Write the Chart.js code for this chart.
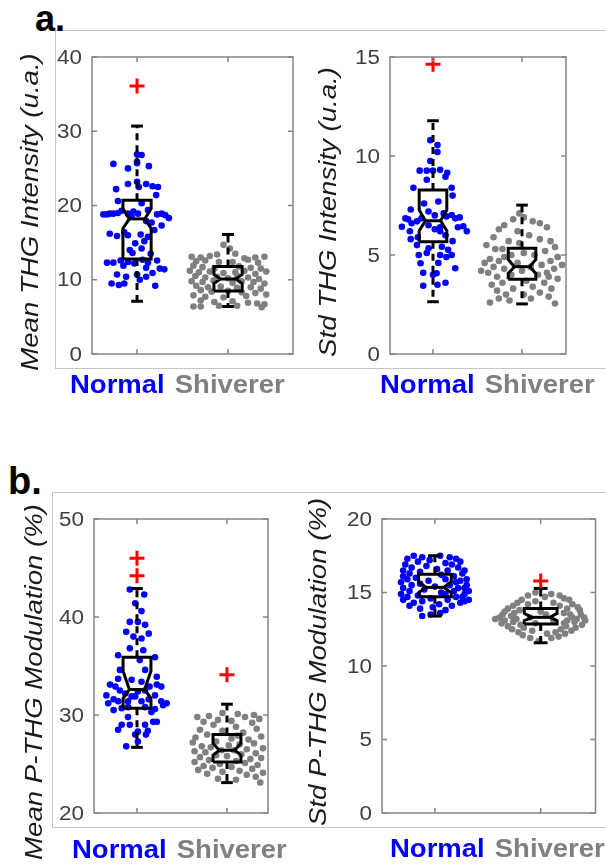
<!DOCTYPE html>
<html lang="en">
<head>
<meta charset="UTF-8">
<title>THG box plots</title>
<style>
    body {
        margin: 0;
        width: 606px;
        height: 865px;
        overflow: hidden;
        background: #ffffff;
        position: relative;
        font-family: 'Liberation Sans', Arial, sans-serif;
    }
    canvas {
        position: absolute;
        left: 0;
        top: 0;
    }
    .frame {
        position: absolute;
        border: 1px solid #c6c6c6;
        width: 600px;
    }
    .letter {
        position: absolute;
        font-weight: bold;
        color: #000;
        line-height: 1;
    }
</style>
<script src="https://cdn.jsdelivr.net/npm/chart.js"></script>
</head>
<body>
<div class="frame" style="left:55px; top:30px; height:337px;"></div>
<div class="frame" style="left:52px; top:492px; height:334px;"></div>
<div class="letter" style="left:35px; top:1px; font-size:36px;">a.</div>
<div class="letter" style="left:8px; top:462px; font-size:38px;">b.</div>

<canvas id="c1" width="606" height="865"></canvas>
<canvas id="c2" width="606" height="865"></canvas>
<canvas id="c3" width="606" height="865"></canvas>
<canvas id="c4" width="606" height="865"></canvas>

<script>
    // ---- data ----
    const categories = ['Normal', 'Shiverer'];

    // tick labels per panel
    const ticksMeanTHG = [0, 10, 20, 30, 40];
    const ticksStdTHG = [0, 5, 10, 15];
    const ticksMeanPTHG = [20, 30, 40, 50];
    const ticksStdPTHG = [0, 5, 10, 15, 20];

    // box stats: [lowWhisker, q1, notchLow, median, notchHigh, q3, highWhisker]
    const statsMeanTHG = [[7.1, 12.8, 16.9, 18.2, 19.6, 20.7, 30.7], [6.4, 8.5, 9.5, 10.1, 10.7, 11.8, 16.1]];
    const statsStdTHG = [[2.64, 5.67, 6.23, 6.73, 7.27, 8.28, 11.78], [2.53, 3.77, 4.07, 4.41, 4.78, 5.34, 7.52]];
    const statsMeanPTHG = [[26.7, 30.7, 31.7, 32.6, 34.5, 35.9, 42.9], [23.1, 25.2, 25.9, 26.4, 27.1, 28.0, 31.1]];
    const statsStdPTHG = [[13.4, 14.71, 14.98, 15.35, 15.73, 16.25, 17.5], [11.58, 12.85, 13.08, 13.31, 13.58, 13.92, 15.28]];

    // outliers: [category index (1|2), value]
    const outMeanTHG = [[1, 36.1]];
    const outStdTHG = [[1, 14.63]];
    const outMeanPTHG = [[1, 46.0], [1, 44.2], [2, 34.1]];
    const outStdPTHG = [[2, 15.78]];

    // individual samples: [x jitter, value]
    const normalMeanTHG = [
        [0.00, 26.9], [0.05, 26.8], [0.00, 25.9], [-0.26, 25.6], [-0.10, 25.0], [0.13, 25.3], [0.00, 25.7],
        [0.00, 23.2], [-0.10, 22.9], [0.02, 22.5], [0.10, 22.9], [0.17, 22.6], [0.23, 22.5], [-0.23, 22.2], [0.21, 21.4], [-0.21, 20.6], [0.05, 20.3],
        [-0.37, 18.8], [-0.33, 18.8], [-0.30, 18.9], [-0.26, 18.9], [-0.21, 19.0], [-0.17, 19.3], [-0.10, 18.9], [-0.04, 19.2], [0.01, 18.9], [0.22, 18.8], [0.27, 18.9], [0.31, 18.7], [0.35, 18.3], [0.12, 19.4], [-0.06, 18.5], [0.10, 17.9],
        [0.16, 17.7], [0.27, 17.3], [0.19, 16.7], [-0.30, 16.2], [-0.22, 15.9], [-0.10, 16.0], [0.04, 16.1], [0.12, 15.8], [-0.14, 16.4], [0.08, 15.2],
        [-0.08, 14.0], [-0.05, 13.6], [0.05, 14.2], [0.15, 13.5], [-0.02, 14.9],
        [-0.33, 12.3], [-0.26, 12.3], [-0.18, 12.6], [-0.10, 12.4], [-0.03, 12.2], [0.06, 12.7], [0.12, 12.3], [0.22, 12.6], [0.10, 11.6], [0.30, 11.4], [0.25, 11.5], [-0.15, 11.9],
        [-0.22, 10.7], [-0.12, 10.4], [0.00, 10.7], [0.03, 10.0], [0.10, 10.4], [-0.28, 9.5], [-0.20, 9.3], [-0.14, 9.5], [0.20, 9.2], [0.17, 10.9]
    ];
    const shiverMeanTHG = [
        [-0.05, 14.7], [0.02, 14.2], [-0.12, 13.4], [0.08, 13.5], [-0.40, 13.1], [-0.30, 13.0], [-0.20, 13.2], [0.18, 12.9], [0.30, 13.0], [0.40, 13.1], [-0.35, 12.5], [-0.25, 12.6], [-0.10, 12.4], [0.05, 12.4], [0.22, 12.7], [0.33, 12.3],
        [-0.38, 11.9], [-0.28, 11.7], [-0.15, 11.5], [0.12, 11.8], [0.25, 11.6], [0.36, 11.5], [-0.42, 11.2], [-0.32, 11.0], [-0.20, 11.1], [-0.05, 10.9], [0.08, 11.0], [0.18, 11.2], [0.30, 10.8], [0.42, 11.1],
        [-0.36, 10.5], [-0.25, 10.3], [-0.12, 10.4], [0.00, 10.2], [0.10, 10.5], [0.22, 10.3], [0.34, 10.1], [-0.40, 9.8], [-0.28, 9.7], [-0.16, 9.9], [0.05, 9.6], [0.15, 9.8], [0.28, 9.7], [0.40, 9.5],
        [-0.35, 9.2], [-0.22, 9.0], [-0.08, 9.1], [0.10, 8.9], [0.25, 9.0], [0.36, 8.8], [-0.30, 8.6], [-0.18, 8.4], [0.00, 8.5], [0.15, 8.3], [0.30, 8.2], [0.42, 8.0], [-0.38, 7.9], [-0.25, 7.7], [-0.05, 7.6], [0.20, 7.8],
        [-0.30, 7.2], [-0.15, 7.0], [0.05, 7.1], [0.22, 6.9], [0.32, 6.8], [0.40, 6.7], [-0.38, 6.4], [-0.30, 6.4], [-0.10, 6.5], [0.10, 6.5], [0.37, 6.3]
    ];
    const normalStdTHG = [
        [-0.03, 10.8], [0.05, 10.55], [0.05, 10.2], [-0.03, 9.75],
        [-0.15, 9.26], [-0.07, 9.26], [0.00, 9.26], [0.08, 9.3], [0.16, 9.15], [0.14, 8.95], [-0.07, 8.8],
        [-0.22, 8.4], [0.21, 8.4], [0.22, 8.0], [-0.25, 7.3], [-0.10, 7.6], [0.06, 7.7], [0.12, 7.1], [-0.05, 7.2], [0.02, 7.0],
        [-0.35, 6.43], [-0.31, 6.85], [-0.28, 6.8], [-0.24, 6.6], [-0.18, 6.7], [-0.13, 6.85], [-0.05, 6.5], [0.02, 6.3], [0.08, 6.4], [0.15, 6.95], [0.21, 7.02], [0.25, 6.85], [0.30, 6.9], [0.34, 6.45], [0.38, 6.2], [0.28, 6.4], [-0.26, 6.2], [0.08, 6.2], [0.14, 6.0], [-0.17, 5.9],
        [-0.18, 5.5], [-0.05, 5.34], [0.10, 5.42], [0.17, 5.26], [-0.16, 5.0], [-0.07, 5.1], [0.08, 5.0], [0.15, 4.9], [0.21, 5.0], [-0.14, 4.58], [0.06, 4.6], [0.25, 4.33], [-0.11, 4.1], [0.00, 4.0], [0.04, 4.08], [-0.11, 3.45], [0.05, 3.5], [0.14, 3.6], [-0.25, 5.8], [0.22, 5.7]
    ];
    const shiverStdTHG = [
        [-0.03, 7.1], [0.02, 6.9], [-0.10, 6.8], [0.12, 6.7], [0.20, 6.6], [-0.20, 6.5], [0.28, 6.4], [-0.26, 6.3], [-0.05, 6.2], [0.08, 6.0], [-0.32, 5.9], [0.20, 5.8], [0.32, 5.7], [-0.15, 5.7], [-0.40, 5.5], [0.37, 5.4],
        [-0.30, 5.3], [-0.22, 5.3], [0.26, 5.2], [0.02, 5.1], [-0.12, 5.0], [0.14, 5.0], [0.40, 4.9], [-0.36, 4.8], [-0.26, 4.7], [0.32, 4.7], [-0.42, 4.6], [-0.05, 4.6], [0.22, 4.5], [0.45, 4.5], [-0.32, 4.4], [0.10, 4.4],
        [-0.20, 4.3], [0.36, 4.3], [0.00, 4.2], [-0.38, 4.1], [0.28, 4.1], [-0.12, 4.0], [0.18, 4.0], [-0.28, 3.9], [0.40, 3.8], [0.05, 3.7], [-0.22, 3.6], [0.25, 3.6], [-0.34, 3.5], [0.12, 3.4], [-0.10, 3.3], [0.33, 3.3],
        [-0.28, 3.2], [0.20, 3.1], [-0.18, 3.0], [0.02, 3.0], [0.30, 2.9], [-0.26, 2.8], [0.10, 2.8], [-0.14, 2.7], [0.37, 2.55], [-0.36, 2.6], [-0.03, 5.6], [-0.20, 4.9], [-0.46, 4.2], [0.30, 3.9]
    ];
    const normalMeanPTHG = [
        [-0.08, 42.8], [0.08, 42.3], [-0.02, 41.4], [0.05, 40.6],
        [-0.08, 39.5], [0.01, 39.5], [0.09, 39.2],
        [-0.12, 38.5], [-0.04, 38.0], [0.05, 37.8], [0.13, 38.3],
        [-0.08, 36.8], [0.07, 36.6], [-0.21, 36.1], [0.20, 35.9], [0.03, 35.6],
        [-0.19, 34.6], [0.09, 34.6], [-0.21, 33.7], [-0.06, 33.6], [0.05, 33.4], [0.22, 33.9],
        [-0.30, 33.1], [-0.24, 32.9], [-0.19, 32.5], [-0.13, 32.2], [-0.06, 31.9], [0.01, 32.4], [0.09, 32.5], [0.14, 32.9], [0.22, 33.1], [0.27, 32.9],
        [-0.34, 32.0], [-0.26, 31.6], [-0.21, 31.4], [-0.10, 31.4], [-0.02, 31.9], [0.05, 31.4], [0.13, 31.6], [0.20, 32.0], [0.27, 31.4], [0.33, 31.2], [0.29, 31.0],
        [-0.32, 31.2], [-0.26, 30.5], [-0.17, 30.7], [-0.10, 30.8], [0.09, 30.8], [0.20, 30.6], [0.16, 30.3],
        [-0.10, 29.8], [0.18, 29.3], [0.22, 29.3], [-0.17, 29.0], [-0.08, 29.0], [0.09, 29.0], [-0.21, 28.5], [0.01, 28.3], [-0.02, 28.0], [0.10, 28.0], [-0.12, 26.8], [0.01, 27.3], [0.12, 28.4]
    ];
    const shiverMeanPTHG = [
        [-0.05, 30.2], [0.12, 30.1], [0.30, 30.0], [-0.20, 29.9], [-0.33, 29.8], [0.20, 29.8], [0.36, 29.6], [-0.10, 29.5], [0.05, 29.4], [-0.26, 29.3], [0.28, 29.2], [-0.15, 29.0], [0.10, 28.8], [0.33, 28.6], [-0.30, 28.5], [-0.05, 28.4],
        [0.18, 28.2], [-0.22, 28.0], [0.38, 27.8], [-0.35, 27.7], [0.05, 27.6], [0.24, 27.5], [-0.12, 27.3], [-0.38, 27.2], [0.30, 27.1], [0.14, 27.0], [-0.28, 26.8], [-0.18, 26.7], [0.40, 26.6], [0.22, 26.5], [-0.06, 26.4], [0.08, 26.4],
        [-0.36, 26.3], [-0.24, 26.2], [0.32, 26.1], [0.16, 26.0], [-0.12, 25.9], [0.00, 25.8], [-0.30, 25.7], [0.38, 25.6], [0.26, 25.5], [-0.20, 25.4], [0.10, 25.3], [-0.36, 25.2], [0.20, 25.1], [-0.08, 25.0], [0.34, 24.9], [-0.26, 24.8],
        [0.05, 24.7], [-0.16, 24.6], [0.28, 24.5], [-0.32, 24.4], [0.14, 24.3], [-0.05, 24.2], [0.40, 24.1], [-0.22, 24.0], [0.22, 23.9], [0.32, 23.7], [-0.10, 23.5], [0.10, 23.4], [0.37, 23.1], [0.02, 26.9], [0.12, 27.9]
    ];
    const normalStdPTHG = [
        [-0.20, 17.5], [-0.12, 17.4], [0.05, 17.5], [0.14, 17.4], [-0.26, 17.3], [-0.05, 17.2], [0.20, 17.3], [-0.16, 17.1], [0.10, 17.0], [0.24, 17.1],
        [-0.28, 16.9], [-0.08, 16.8], [0.16, 16.9], [-0.22, 16.7], [0.02, 16.6], [0.22, 16.7], [0.28, 16.5], [-0.30, 16.5], [-0.14, 16.4], [0.12, 16.5],
        [-0.24, 16.3], [0.06, 16.2], [0.26, 16.3], [-0.30, 16.1], [-0.18, 16.0], [0.18, 16.1], [0.30, 15.9], [-0.26, 15.9], [-0.06, 15.8], [0.10, 15.9], [0.24, 15.8],
        [-0.32, 15.7], [-0.14, 15.6], [0.20, 15.7], [0.30, 15.5], [-0.22, 15.5], [0.00, 15.4], [0.14, 15.5], [0.28, 15.3], [-0.30, 15.3], [-0.10, 15.2], [0.22, 15.3], [0.32, 15.1],
        [-0.24, 15.1], [0.06, 15.0], [0.18, 15.1], [0.28, 14.9], [-0.32, 14.9], [-0.16, 14.8], [0.10, 14.9], [0.26, 14.7], [-0.26, 14.7], [-0.04, 14.6], [0.20, 14.7], [0.32, 14.5],
        [-0.30, 14.5], [-0.12, 14.4], [0.12, 14.5], [0.24, 14.3], [-0.20, 14.3], [0.04, 14.2], [0.28, 14.4], [-0.24, 14.1], [-0.02, 14.0], [0.16, 14.1], [-0.14, 13.9], [0.10, 13.8],
        [-0.04, 13.5], [0.05, 13.6], [-0.12, 13.4]
    ];
    const shiverStdPTHG = [
        [-0.05, 15.0], [0.10, 14.9], [-0.12, 14.8], [0.04, 14.7], [0.18, 14.8], [-0.18, 14.5], [0.22, 14.6], [-0.22, 14.3], [-0.05, 14.4], [0.12, 14.3], [0.27, 14.5],
        [-0.26, 14.1], [-0.12, 14.2], [0.18, 14.1], [0.30, 14.2], [-0.31, 13.9], [0.25, 13.9], [0.35, 14.0], [-0.34, 13.7], [-0.20, 13.8], [0.22, 13.6], [0.37, 13.8],
        [-0.36, 13.5], [-0.25, 13.6], [0.28, 13.5], [0.38, 13.5], [-0.39, 13.3], [-0.28, 13.4], [0.30, 13.3], [0.41, 13.3],
        [-0.43, 13.2], [-0.34, 13.1], [-0.23, 13.2], [0.25, 13.1], [0.34, 13.2], [0.42, 13.1], [-0.37, 12.9], [-0.26, 13.0], [0.22, 12.9], [0.32, 13.0], [0.39, 12.8],
        [-0.31, 12.7], [-0.19, 12.8], [0.24, 12.7], [0.33, 12.6], [-0.27, 12.5], [-0.16, 12.6], [0.19, 12.5], [0.29, 12.4], [-0.21, 12.3], [-0.08, 12.4], [0.14, 12.3], [0.23, 12.2],
        [-0.17, 12.1], [0.06, 12.2], [0.17, 12.0], [-0.10, 11.9], [0.10, 11.9], [-0.02, 11.7],
        [-0.10, 13.3], [0.05, 13.5], [0.12, 13.1], [-0.05, 12.9], [0.00, 13.7]
    ];

    // ---- layout / style ----
    const W = 606, H = 865;
    const BLUE = '#0000ff';
    const GRAY = '#808080';
    const BOX_HALF = 0.155;
    const NOTCH_HALF = 0.085;
    const CAP_HALF = 0.065;
    const FONT = "'Liberation Sans', Arial, sans-serif";

    const panels = [
        {
            canvas: 'c1', area: { left: 92, top: 57, right: 293, bottom: 354 },
            xRange: [0.505, 2.714], yRange: [0, 40], ticks: ticksMeanTHG,
            title: 'Mean THG Intensity (u.a.)', titleAt: [32, 212],
            labelAt: [70, 393],
            samples: [normalMeanTHG, shiverMeanTHG], stats: statsMeanTHG, outliers: outMeanTHG
        },
        {
            canvas: 'c2', area: { left: 390, top: 57, right: 566, bottom: 354 },
            xRange: [0.517, 2.494], yRange: [0, 15], ticks: ticksStdTHG,
            title: 'Std THG Intensity (u.a.)', titleAt: [330, 212],
            labelAt: [380, 393],
            samples: [normalStdTHG, shiverStdTHG], stats: statsStdTHG, outliers: outStdTHG
        },
        {
            canvas: 'c3', area: { left: 94, top: 519, right: 268, bottom: 813 },
            xRange: [0.522, 2.456], yRange: [20, 50], ticks: ticksMeanPTHG,
            title: 'Mean P-THG Modulation (%)', titleAt: [36, 682],
            labelAt: [72, 858],
            samples: [normalMeanPTHG, shiverMeanPTHG], stats: statsMeanPTHG, outliers: outMeanPTHG
        },
        {
            canvas: 'c4', area: { left: 382, top: 519, right: 604, bottom: 813 },
            xRange: [0.5, 2.518], yRange: [0, 20], ticks: ticksStdPTHG,
            title: 'Std P-THG Modulation (%)', titleAt: [320, 662],
            labelAt: [390, 857],
            samples: [normalStdPTHG, shiverStdPTHG], stats: statsStdPTHG, outliers: outStdPTHG
        }
    ];

    function lineSet(data, dash) {
        return {
            type: 'scatter', data: data, showLine: true, pointRadius: 0,
            borderColor: '#000', borderWidth: 3, borderDash: dash || [],
            fill: false, tension: 0, clip: false
        };
    }

    function boxDatasets(c, s) {
        const [lo, q1, nlo, med, nhi, q3, hi] = s;
        const w = BOX_HALF, n = NOTCH_HALF, k = CAP_HALF;
        const outline = [
            { x: c - w, y: q1 }, { x: c + w, y: q1 }, { x: c + w, y: nlo }, { x: c + n, y: med },
            { x: c + w, y: nhi }, { x: c + w, y: q3 }, { x: c - w, y: q3 }, { x: c - w, y: nhi },
            { x: c - n, y: med }, { x: c - w, y: nlo }, { x: c - w, y: q1 }
        ];
        return [
            lineSet(outline),
            lineSet([{ x: c - n, y: med }, { x: c + n, y: med }]),
            lineSet([{ x: c, y: q3 }, { x: c, y: hi }], [7, 5]),
            lineSet([{ x: c, y: q1 }, { x: c, y: lo }], [7, 5]),
            lineSet([{ x: c - k, y: hi }, { x: c + k, y: hi }]),
            lineSet([{ x: c - k, y: lo }, { x: c + k, y: lo }])
        ];
    }

    function stretchText(ctx, text, x, y, sx) {
        ctx.save();
        ctx.translate(x, y);
        ctx.scale(sx, 1);
        ctx.fillText(text, 0, 0);
        ctx.restore();
    }

    function axesPlugin(panel) {
        return {
            id: 'matlabAxes',
            afterDatasetsDraw(chart) {
                const ctx = chart.ctx;
                const a = chart.chartArea;
                const xs = chart.scales.x, ys = chart.scales.y;
                ctx.save();
                // box frame
                ctx.strokeStyle = '#858585';
                ctx.lineWidth = 1.5;
                ctx.strokeRect(a.left, a.top, a.right - a.left, a.bottom - a.top);
                // inward ticks
                ctx.beginPath();
                panel.ticks.forEach(t => {
                    const y = ys.getPixelForValue(t);
                    ctx.moveTo(a.left, y); ctx.lineTo(a.left + 5, y);
                    ctx.moveTo(a.right, y); ctx.lineTo(a.right - 5, y);
                });
                categories.forEach((c, i) => {
                    const x = xs.getPixelForValue(i + 1);
                    ctx.moveTo(x, a.bottom); ctx.lineTo(x, a.bottom - 5);
                    ctx.moveTo(x, a.top); ctx.lineTo(x, a.top + 5);
                });
                ctx.stroke();
                // tick labels
                ctx.fillStyle = '#404040';
                ctx.font = '20px ' + FONT;
                ctx.textAlign = 'right';
                ctx.textBaseline = 'middle';
                panel.ticks.forEach(t => {
                    stretchText(ctx, String(t), a.left - 10, ys.getPixelForValue(t) + 1, 1.12);
                });
                // y title
                ctx.save();
                ctx.translate(panel.titleAt[0], panel.titleAt[1]);
                ctx.rotate(-Math.PI / 2);
                ctx.scale(1.2, 1);
                ctx.fillStyle = '#1a1a1a';
                ctx.font = 'italic 23px ' + FONT;
                ctx.textAlign = 'center';
                ctx.textBaseline = 'middle';
                ctx.fillText(panel.title, 0, 0);
                ctx.restore();
                // category labels
                ctx.font = 'bold 25px ' + FONT;
                ctx.textAlign = 'left';
                ctx.textBaseline = 'alphabetic';
                const sx = 1.1;
                ctx.fillStyle = BLUE;
                stretchText(ctx, categories[0], panel.labelAt[0], panel.labelAt[1], sx);
                const w0 = ctx.measureText(categories[0]).width * sx;
                ctx.fillStyle = GRAY;
                stretchText(ctx, categories[1], panel.labelAt[0] + w0 + 10, panel.labelAt[1], sx);
                ctx.restore();
            }
        };
    }

    panels.forEach(panel => {
        const datasets = [];
        // outliers on top
        datasets.push({
            type: 'scatter',
            data: panel.outliers.map(o => ({ x: o[0], y: o[1] })),
            pointStyle: 'cross', pointRadius: 7.5, borderColor: '#ff0000', borderWidth: 3,
            backgroundColor: '#ff0000', clip: false
        });
        panel.stats.forEach((s, i) => {
            boxDatasets(i + 1, s).forEach(d => datasets.push(d));
        });
        const colors = [BLUE, GRAY];
        panel.samples.forEach((pts, i) => {
            datasets.push({
                type: 'scatter',
                label: categories[i],
                data: pts.map(p => ({ x: i + 1 + p[0], y: p[1] })),
                pointRadius: 3.3, pointBorderWidth: 0,
                backgroundColor: colors[i], borderColor: colors[i]
            });
        });

        new Chart(document.getElementById(panel.canvas), {
            type: 'scatter',
            data: { datasets: datasets },
            options: {
                responsive: false,
                animation: false,
                events: [],
                layout: {
                    padding: {
                        left: panel.area.left, top: panel.area.top,
                        right: W - panel.area.right, bottom: H - panel.area.bottom
                    }
                },
                scales: {
                    x: { type: 'linear', min: panel.xRange[0], max: panel.xRange[1], display: false },
                    y: { type: 'linear', min: panel.yRange[0], max: panel.yRange[1], display: false }
                },
                plugins: {
                    legend: { display: false },
                    tooltip: { enabled: false }
                }
            },
            plugins: [axesPlugin(panel)]
        });
    });
</script>
</body>
</html>
